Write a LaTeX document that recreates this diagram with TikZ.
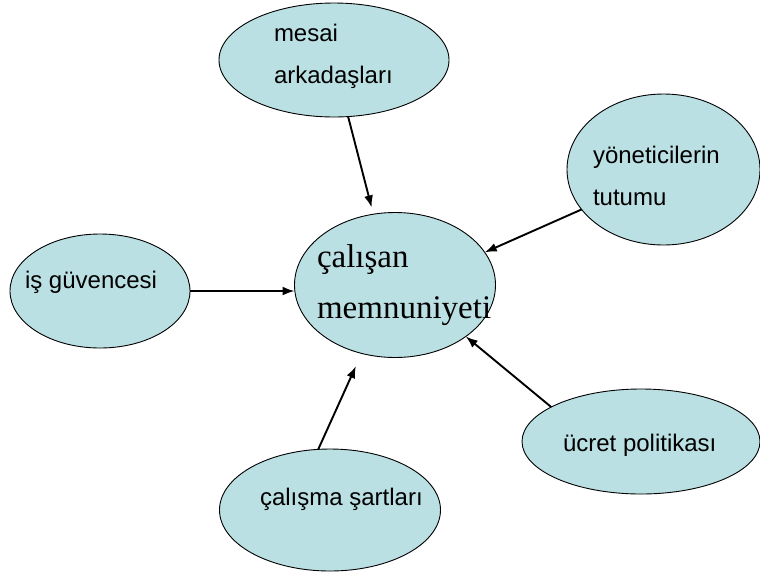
\documentclass[tikz,border=0pt]{standalone}
\usepackage{fontspec}
\setmainfont{Liberation Sans}
\newfontfamily\serifface{Liberation Serif}
\usetikzlibrary{shapes.geometric,arrows.meta}
\definecolor{bubblefill}{RGB}{187,224,227}
\tikzset{
  bubble/.style={ellipse,draw=black,line width=0.9pt,fill=bubblefill,inner sep=0pt,outer sep=0pt},
  lbl/.style={anchor=base west,inner sep=0pt,outer sep=0pt,font=\fontsize{24}{28}\selectfont},
  biglbl/.style={anchor=base west,inner sep=0pt,outer sep=0pt,font=\serifface\fontsize{33}{38}\selectfont},
  arr/.style={-{Latex[length=12pt,width=9pt]},line width=1.9pt},
}
\begin{document}
\begin{tikzpicture}[x=1pt,y=-1pt]
\useasboundingbox (0,0) rectangle (760,574);
% ellipses
\node[bubble,minimum width=201pt,minimum height=145pt] (cm) at (395,285) {};
\node[bubble,minimum width=230pt,minimum height=114pt] (ms) at (334,60) {};
\node[bubble,minimum width=193pt,minimum height=151pt] (yt) at (663.5,169.5) {};
\node[bubble,minimum width=180pt,minimum height=114pt] (ig) at (100,291) {};
\node[bubble,minimum width=221pt,minimum height=122pt] (cs) at (330,510) {};
\node[bubble,minimum width=238pt,minimum height=105pt] (uc) at (641,441.5) {};
% texts
\node[biglbl] (cmtop) at (317,267) {çalışan};
\node[biglbl] (cmbot) at (317,318) {memnuniyeti};
\node[lbl] (mstop) at (274,41) {mesai};
\node[lbl] (msbot) at (274,83) {arkadaşları};
\node[lbl] (yttop) at (593,163) {yöneticilerin};
\node[lbl] (ytbot) at (593,205) {tutumu};
\node[lbl] (igtxt) at (25,288) {iş güvencesi};
\node[lbl] (cstxt) at (260,505) {çalışma şartları};
\node[lbl] (uctxt) at (563,451) {ücret politikası};
% arrows
\draw[arr,shorten >=7pt] (ms.-76) -- (cm.107);
\draw[arr] (yt.206.7) -- (cm.20);
\draw[arr] (ig.east) -- (ig.east -| cm.west);
\draw[arr,shorten >=14pt] (cs.101) -- (cm.244);
\draw[arr] (uc.159.6) -- (cm.-36);
\end{tikzpicture}
\end{document}
